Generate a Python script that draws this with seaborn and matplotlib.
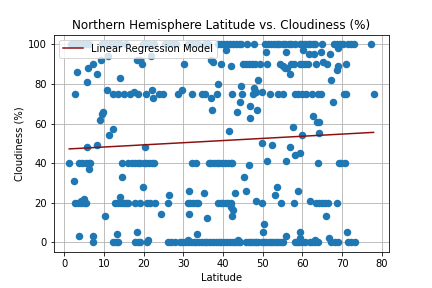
import numpy as np
import pandas as pd
import matplotlib
matplotlib.use("Agg")
import matplotlib.pyplot as plt
import seaborn as sns

# ---- data (latitude, cloudiness %) ----
lat_row100 = [1.8, 2.5, 3.3, 4.0, 4.8, 5.6, 6.3, 9.5, 10.5, 11.5, 12.3, 13.2, 14.2, 15.5,
              19.8, 20.5, 21.3, 22.6, 25.5, 26.3, 27.5, 28.2, 31.3, 32.0, 32.8, 33.6,
              35.4, 36.3, 38.8, 39.5, 40.3, 41.0, 41.8, 42.5, 43.2, 44.0, 44.6, 46.0,
              47.7, 50.6, 51.3, 52.0, 52.8, 53.5, 54.2, 55.0, 55.7, 56.5, 57.2, 58.0,
              59.3, 60.0, 60.7, 61.4, 62.0, 62.6, 63.2, 65.0, 68.0, 68.8, 69.5, 70.3,
              71.5, 72.2, 73.0, 77.3]

lat_row40 = [1.3, 3.8, 4.6, 5.4, 6.2, 6.6, 14.6, 16.2, 17.0, 17.8, 18.5, 19.2, 20.0,
             20.7, 21.4, 22.2, 22.6, 32.1, 33.3, 36.4, 37.0, 37.7, 38.4, 39.1, 39.8,
             40.5, 41.2, 41.9, 42.3, 63.8, 69.1, 69.8, 70.6]

lat_row20 = [2.8, 3.5, 4.2, 4.9, 5.6, 12.9, 13.6, 14.3, 15.0, 15.7, 16.2, 17.9, 19.1,
             21.0, 21.7, 22.9, 26.1, 31.1, 31.8, 32.5, 33.2, 33.7, 38.7, 39.4, 40.0,
             40.7, 41.3, 41.9, 49.7, 54.7, 57.8, 63.5, 64.2, 64.9, 65.6, 66.4, 68.7]

lat_row0 = [7.3, 12.4, 13.0, 13.7, 17.9, 18.5, 19.1, 20.8, 26.2, 27.0, 27.9,
            29.1, 29.8, 30.5, 31.2, 31.9, 32.6, 33.3, 34.0, 34.7, 35.4, 36.1, 36.8,
            37.5, 38.2, 38.9, 39.6, 40.3, 41.0, 41.7, 42.4, 43.1, 43.8, 44.3,
            45.9, 46.5, 47.1, 47.7, 48.3, 48.9, 49.7, 50.3, 50.9, 51.5, 52.1, 52.7,
            53.3, 53.9, 54.5, 55.1, 58.0, 58.6, 59.2, 59.9, 60.6, 61.8, 62.5, 63.2,
            63.9, 67.3, 68.1, 68.9, 71.4, 72.2, 73.1]

other_lat = [40.7, 50.8, 55.8, 60.1, 61.7, 62.8, 64.7, 67.0, 68.9,
             3.25, 6.0, 7.3, 5.75, 8.4, 9.35, 11.0, 14.1, 18.3, 19.7, 19.0, 22.0, 30.2,
             37.5, 37.0, 39.6, 38.7, 42.1, 45.1, 45.9, 46.5, 47.2, 48.0, 49.3, 51.0,
             54.3, 55.0, 55.6, 56.1, 56.8, 57.2, 57.8, 59.3, 60.0, 60.7, 61.4, 63.4,
             65.1, 66.2, 68.6, 68.9, 70.9,
             2.7, 10.8, 12.2, 13.7, 15.0, 16.6, 17.5, 18.6, 20.6, 22.2, 22.5, 23.9,
             25.0, 28.8, 29.8, 32.2, 34.6, 35.5, 37.0, 37.2, 38.5, 42.3, 43.5, 44.3,
             44.6, 44.8, 46.8, 46.9, 47.5, 47.9, 48.2, 48.5, 48.7, 49.7, 51.8, 53.9,
             55.2, 58.2, 58.9, 60.0, 61.0, 62.4, 63.9, 64.7, 67.3, 67.8, 70.4, 71.0,
             77.9,
             5.9, 8.2, 9.1, 9.5, 9.9, 11.2, 12.2, 20.4, 41.4, 49.8, 51.2, 52.3, 55.8,
             56.8, 57.5, 58.0, 59.3, 60.0, 62.6, 63.6, 64.2, 64.1,
             46.5, 6.2, 2.4, 14.7, 19.95, 26.5, 31.5, 35.2, 45.3, 43.0, 45.8, 53.0,
             53.6, 59.0,
             4.9, 4.3, 14.1, 48.3, 61.8, 42.0, 42.5, 42.3, 65.8,
             10.3, 24.4, 31.5, 36.0, 3.7, 7.3, 13.4, 18.4, 21.1, 33.5, 31.2, 50.3,
             50.0, 55.8, 59.3, 59.3, 71.3, 66.6, 63.2, 43.7]

other_cloud = [97, 96, 96, 97, 95, 95, 96, 95, 98,
               86, 88, 90, 81, 85, 92, 94, 83, 92, 90, 92, 94, 90,
               91, 92, 90, 80, 89, 90, 90, 90, 90, 90, 90, 90,
               90, 89, 88, 88, 85, 90, 90, 90, 90, 90, 90, 90,
               91, 90, 87, 89, 90,
               75, 77, 75, 75, 75, 75, 76, 75, 75, 77, 73, 75,
               75, 75, 77, 75, 75, 75, 73, 67, 75, 75, 66, 71,
               79, 75, 69, 63, 75, 78, 76, 67, 82, 76, 75, 75,
               75, 75, 75, 75, 75, 75, 75, 75, 82, 71, 75, 75,
               75,
               48, 49, 62, 65, 66, 54, 57, 48, 56, 50, 41, 49, 41,
               48, 58, 44, 45, 54, 64, 61, 61, 55,
               39, 37, 31, 33, 28, 24, 26, 25, 33, 25, 26, 24,
               28, 26,
               22, 21, 23, 21, 21, 18, 16, 13, 13,
               13, 14, 14, 12, 3, 3, 4, 5, 1, 4, 1, 9,
               5, 3, 5, 2, 5, 2, 1, 1]

# assemble table
lat = lat_row100 + lat_row40 + lat_row20 + lat_row0 + other_lat
cloud = ([100] * len(lat_row100) + [40] * len(lat_row40) + [20] * len(lat_row20)
         + [0] * len(lat_row0) + other_cloud)
df = pd.DataFrame({"Latitude": lat, "Cloudiness": cloud})

# linear regression from the data
slope, intercept = np.polyfit(df["Latitude"], df["Cloudiness"], 1)
xs = np.array([df["Latitude"].min(), df["Latitude"].max()])
reg = pd.DataFrame({"Latitude": xs, "Fit": slope * xs + intercept})

fig, ax = plt.subplots(figsize=(6, 4), dpi=72)
sns.scatterplot(data=df, x="Latitude", y="Cloudiness", ax=ax, s=36,
                color="#1f77b4", edgecolor="#1f77b4", linewidth=1.5, zorder=2)
sns.lineplot(data=reg, x="Latitude", y="Fit", ax=ax, color="#8b1010",
             linewidth=1.5, label="Linear Regression Model", zorder=3)
ax.grid(True, color="#b0b0b0", linewidth=0.8, zorder=0)
ax.set_axisbelow(True)
ax.set_xticks([0, 10, 20, 30, 40, 50, 60, 70, 80])
ax.set_yticks([0, 20, 40, 60, 80, 100])
ax.set_title("Northern Hemisphere Latitude vs. Cloudiness (%)", fontsize=12)
ax.set_xlabel("Latitude", fontsize=10)
ax.set_ylabel("Cloudiness (%)", fontsize=10)
ax.legend(loc="upper left", fontsize=10)
fig.subplots_adjust(left=0.125, right=0.9, bottom=0.125, top=0.88)
fig.savefig("out.png", dpi=72)
